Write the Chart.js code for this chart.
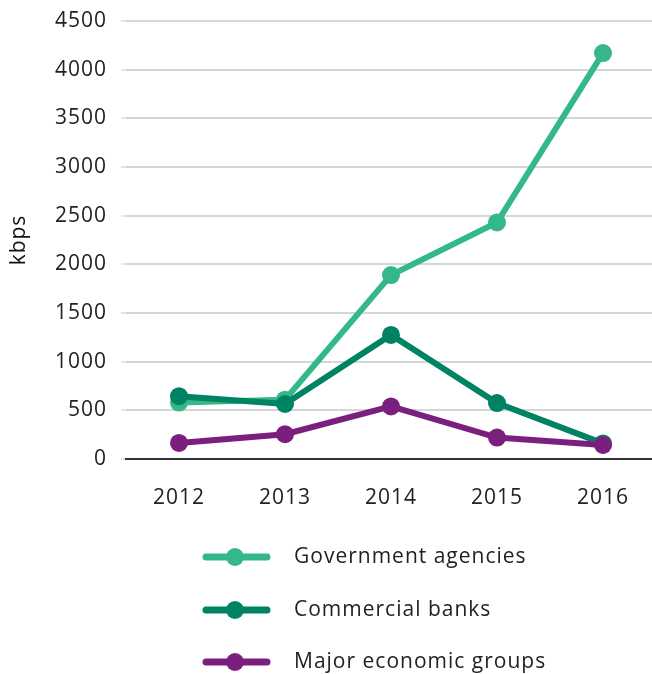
<!DOCTYPE html>
<html>
<head>
<meta charset="utf-8">
<script src="https://cdn.jsdelivr.net/npm/chart.js@4"></script>
<style>
  html, body { margin: 0; padding: 0; background: #fff; overflow: hidden; }
  /* slightly wider than the window so the plot runs off the right edge like the original */
  #wrap { width: 665px; height: 674px; }
</style>
</head>
<body>
<div id="wrap"><canvas id="kbpsChart"></canvas></div>
<script>
var years = ['2012', '2013', '2014', '2015', '2016'];
var seriesNames = ['Government agencies', 'Commercial banks', 'Major economic groups'];
var govValues = [580, 610, 1890, 2430, 4170];
var bankValues = [645, 565, 1275, 575, 160];
var groupValues = [165, 255, 540, 220, 145];
var yTicks = [0, 500, 1000, 1500, 2000, 2500, 3000, 3500, 4000, 4500];
var colours = ['#34b889', '#008264', '#7a1f7e'];

var fontFamily = '"Open Sans", "Noto Sans", sans-serif';

// a bit of tracking so Open Sans gets closer to the wider original face
var tracking = {
    id: 'tracking',
    beforeDraw: function(chart) { chart.ctx.letterSpacing = '1px'; }
};

// legend drawn as line + dot + label, stacked under the chart
var stackedLegend = {
    id: 'stackedLegend',
    afterDraw: function(chart) {
        var ctx = chart.ctx;
        var rowsY = [557, 610, 662];
        ctx.save();
        chart.data.datasets.forEach(function(ds, i) {
            var y = rowsY[i];
            ctx.strokeStyle = ds.borderColor;
            ctx.lineWidth = 7;
            ctx.lineCap = 'round';
            ctx.beginPath();
            ctx.moveTo(206, y);
            ctx.lineTo(267, y);
            ctx.stroke();
            ctx.fillStyle = ds.borderColor;
            ctx.beginPath();
            ctx.arc(235, y, 9, 0, Math.PI * 2);
            ctx.fill();
            ctx.fillStyle = '#222';
            ctx.font = '21px ' + fontFamily;
            ctx.textBaseline = 'middle';
            ctx.fillText(ds.label, 294, y);
        });
        ctx.restore();
    }
};

function makeSet(name, values, colour, order) {
    return {
        label: name,
        data: values,
        borderColor: colour,
        backgroundColor: colour,
        borderWidth: 6,
        pointRadius: 9,
        pointHoverRadius: 9,
        pointBorderWidth: 0,
        tension: 0,
        order: order
    };
}

var ctx = document.getElementById('kbpsChart').getContext('2d');
var chart = new Chart(ctx, {
    type: 'line',
    data: {
        labels: years,
        datasets: [
            makeSet(seriesNames[0], govValues, colours[0], 3),
            makeSet(seriesNames[1], bankValues, colours[1], 2),
            makeSet(seriesNames[2], groupValues, colours[2], 1)
        ]
    },
    options: {
        responsive: true,
        maintainAspectRatio: false,
        animation: false,
        layout: { padding: { top: 21, right: 0, left: 0, bottom: 0 } },
        plugins: {
            legend: { display: false },
            tooltip: { enabled: false }
        },
        scales: {
            x: {
                offset: true,
                grid: { display: false, drawTicks: false },
                border: { color: '#333', width: 2 },
                ticks: {
                    color: '#222',
                    padding: 26,
                    font: { family: fontFamily, size: 21 }
                },
                afterFit: function(scale) {
                    scale.height = 215;
                    scale.paddingLeft = 0;
                    scale.paddingRight = 0;
                }
            },
            y: {
                min: 0,
                max: 4500,
                afterBuildTicks: function(scale) {
                    scale.ticks = yTicks.map(function(v) { return { value: v }; });
                },
                grid: {
                    color: function(c) { return c.tick && c.tick.value === 0 ? 'rgba(0,0,0,0)' : '#d4d7d9'; },
                    lineWidth: 2,
                    tickLength: 5,
                    tickColor: '#c8cbcd',
                    tickWidth: 1
                },
                border: { display: false },
                ticks: {
                    color: '#222',
                    padding: 14,
                    font: { family: fontFamily, size: 21 },
                    callback: function(value) { return String(value); }
                },
                title: {
                    display: true,
                    text: 'kbps',
                    color: '#111',
                    padding: { top: 6, bottom: 8 },
                    font: { family: fontFamily, size: 21 }
                },
                afterFit: function(scale) {
                    scale.width = 126;
                    scale.paddingTop = 0;
                    scale.paddingBottom = 0;
                }
            }
        }
    },
    plugins: [tracking, stackedLegend]
});
</script>
</body>
</html>
